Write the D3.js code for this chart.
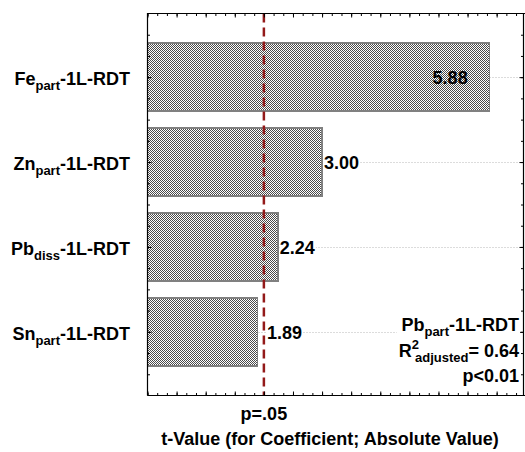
<!DOCTYPE html>
<html>
<head>
<meta charset="utf-8">
<script src="https://cdn.jsdelivr.net/npm/d3@7"></script>
<style>
  body { margin: 0; background: #fff; }
  svg { display: block; font-family: "Liberation Sans", Arial, sans-serif; font-weight: bold; }
</style>
</head>
<body>
<svg id="chart" width="525" height="452"></svg>
<script>
// data
const elements = ["Fe", "Zn", "Pb", "Sn"];
const fractions = ["part", "part", "diss", "part"];
const suffix = "-1L-RDT";
const tValues = [5.88, 3.00, 2.24, 1.89];
const tLabels = ["5.88", "3.00", "2.24", "1.89"];
const pCrit = 2.0;
const pCritLabel = "p=.05";
const xTitle = "t-Value (for Coefficient; Absolute Value)";
const modelResponse = ["Pb", "part", "-1L-RDT"];
const modelR2 = ["R", "2", "adjusted", "= 0.64"];
const modelP = "p<0.01";

// layout
const plotL = 147.5, plotR = 523.5, plotT = 13.5, plotB = 395.5;

const svg = d3.select("#chart");

const x = d3.scaleLinear().domain([0, 6.47]).range([plotL, 524]);
// category index on a linear scale, padding at each end
const y = d3.scaleLinear().domain([-0.75, 3.75]).range([plotT, plotB]);
const barHalf = 0.4;

// crosshatch fill
const pat = svg.append("defs").append("pattern")
  .attr("id", "hatch")
  .attr("patternUnits", "userSpaceOnUse")
  .attr("width", 2).attr("height", 2);
pat.append("rect").attr("width", 2).attr("height", 2).attr("fill", "#ffffff");
pat.append("rect").attr("width", 1).attr("height", 1).attr("fill", "#4a4a4a");
pat.append("rect").attr("x", 1).attr("y", 1).attr("width", 1).attr("height", 1).attr("fill", "#4a4a4a");

// dotted grid lines at each bar
svg.append("g").selectAll("line")
  .data(elements)
  .enter().append("line")
  .attr("x1", plotL).attr("x2", plotR)
  .attr("y1", (d, i) => Math.round(y(i)) + 0.5)
  .attr("y2", (d, i) => Math.round(y(i)) + 0.5)
  .attr("stroke", "#b8b8b8")
  .attr("stroke-dasharray", "1,2");

// bars
svg.append("g").selectAll("rect")
  .data(tValues)
  .enter().append("rect")
  .attr("x", x(0))
  .attr("y", (d, i) => y(i - barHalf))
  .attr("width", d => x(d) - x(0))
  .attr("height", y(barHalf) - y(-barHalf))
  .attr("fill", "url(#hatch)")
  .attr("stroke", "#808080")
  .attr("stroke-width", 1.5)
  .attr("shape-rendering", "crispEdges");

// p = .05 reference line
svg.append("line")
  .attr("x1", x(pCrit)).attr("x2", x(pCrit))
  .attr("y1", plotT).attr("y2", plotB)
  .attr("stroke", "#931a1a")
  .attr("stroke-width", 2.5)
  .attr("stroke-dasharray", "9,5");

// value labels
const labels = svg.append("g");
tValues.forEach((v, i) => {
  const inside = x(v) + 40 > plotR;
  const tx = inside ? x(v) - 22 : Math.max(x(v) + 2, x(pCrit) + 3);
  const t = labels.append("text")
    .attr("x", tx)
    .attr("y", y(i) + 7)
    .attr("text-anchor", inside ? "end" : "start")
    .attr("font-size", 18)
    .text(tLabels[i]);
  if (!inside) {
    const b = t.node().getBBox();
    labels.insert("rect", "text")
      .attr("x", b.x).attr("y", y(i) - 3)
      .attr("width", b.width + 1).attr("height", 6)
      .attr("fill", "#fff");
  }
});

// axes, ticks pointing inward, no labels
const xMinor = d3.range(0, 6.47, 1 / 6);
const xMajor = d3.range(0, 6.47, 0.5);
const yMinor = d3.range(-0.5, 3.6, 0.25);
const yMajor = d3.range(0, elements.length);

function tickAxis(axis, values, size, tx, ty) {
  const g = svg.append("g")
    .attr("transform", `translate(${tx},${ty})`)
    .call(axis.tickValues(values).tickSize(size).tickFormat(""));
  g.select(".domain").remove();
  g.selectAll("line").attr("stroke", "#000");
}
tickAxis(d3.axisTop(x), xMinor, -2.5, 0, plotT);
tickAxis(d3.axisTop(x), xMajor, -4, 0, plotT);
tickAxis(d3.axisBottom(x), xMinor, -2.5, 0, plotB);
tickAxis(d3.axisBottom(x), xMajor, -4, 0, plotB);
tickAxis(d3.axisLeft(y), yMinor, -2.5, plotL, 0);
tickAxis(d3.axisLeft(y), yMajor, -4, plotL, 0);
tickAxis(d3.axisRight(y), yMinor, -2.5, plotR, 0);
tickAxis(d3.axisRight(y), yMajor, -4, plotR, 0);

// frame
svg.append("path")
  .attr("d", `M${plotL},${plotB}V${plotT}H525M${plotR},${plotT}V${plotB}M${plotL},${plotB}H525`)
  .attr("fill", "none")
  .attr("stroke", "#000")
  .attr("stroke-width", 1.2);

// category labels with subscripts
elements.forEach((el, i) => {
  const t = svg.append("text")
    .attr("x", 130)
    .attr("y", y(i) + 8)
    .attr("text-anchor", "end")
    .attr("font-size", 18);
  t.append("tspan").text(el);
  t.append("tspan").attr("font-size", 13).attr("dy", 5).text(fractions[i]);
  t.append("tspan").attr("dy", -5).text(suffix);
});

// model annotation
const note = svg.append("g");
const n1 = note.append("text").attr("x", 519).attr("y", 331).attr("text-anchor", "end").attr("font-size", 18);
n1.append("tspan").text(modelResponse[0]);
n1.append("tspan").attr("font-size", 13).attr("dy", 5).text(modelResponse[1]);
n1.append("tspan").attr("dy", -5).text(modelResponse[2]);
const n2 = note.append("text").attr("x", 519).attr("y", 357).attr("text-anchor", "end").attr("font-size", 18);
n2.append("tspan").text(modelR2[0]);
n2.append("tspan").attr("font-size", 13).attr("dy", -8).text(modelR2[1]);
n2.append("tspan").attr("font-size", 13).attr("dx", -4).attr("dy", 13).text(modelR2[2]);
n2.append("tspan").attr("dy", -5).text(modelR2[3]);
note.append("text").attr("x", 519).attr("y", 382).attr("text-anchor", "end").attr("font-size", 18).text(modelP);
const nb = note.node().getBBox();
note.insert("rect", "text")
  .attr("x", nb.x - 2).attr("y", nb.y)
  .attr("width", 520 - nb.x + 2).attr("height", nb.height)
  .attr("fill", "#fff");

// bottom labels
svg.append("text")
  .attr("x", x(pCrit))
  .attr("y", 420)
  .attr("text-anchor", "middle")
  .attr("font-size", 18)
  .text(pCritLabel);

svg.append("text")
  .attr("x", 330)
  .attr("y", 445)
  .attr("text-anchor", "middle")
  .attr("font-size", 18)
  .text(xTitle);
</script>
</body>
</html>
